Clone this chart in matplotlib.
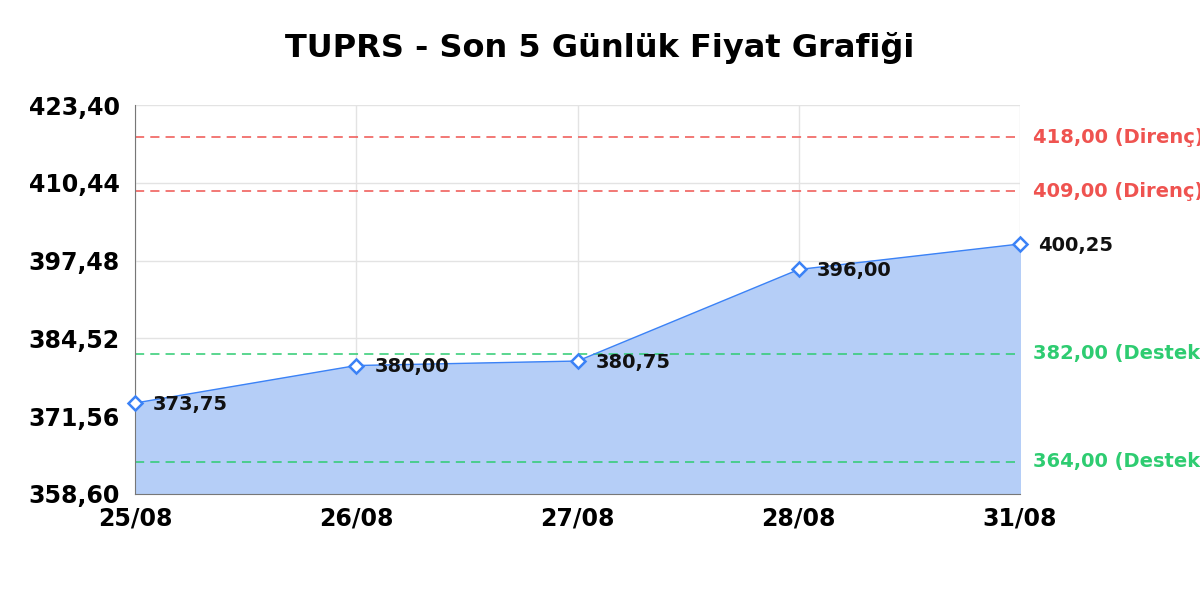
import numpy as np
import matplotlib.pyplot as plt
from matplotlib.transforms import blended_transform_factory, offset_copy

plt.rcParams['font.family'] = ['DejaVu Sans']

# data
dates = ['25/08', '26/08', '27/08', '28/08', '31/08']
prices = [373.75, 380.00, 380.75, 396.00, 400.25]
resistance = [418.00, 409.00]
support = [382.00, 364.00]
y_ticks = [358.60, 371.56, 384.52, 397.48, 410.44, 423.40]

blue = '#3b82f6'
red = '#ef5350'
green = '#2ecc71'

fig = plt.figure(figsize=(12, 6), dpi=100)
ax = fig.add_axes([0.1125, 0.1767, 0.7375, 0.6483])

x = np.arange(len(dates))
ax.fill_between(x, prices, y_ticks[0], color='#b5cef7', zorder=1)
ax.plot(x, prices, color=blue, lw=1, zorder=3)
ax.plot(x, prices, ls='none', marker='D', ms=7, mfc='white', mec=blue, mew=1.8, zorder=4, clip_on=False)

for xi, p in zip(x, prices):
    ax.annotate(f'{p:.2f}'.replace('.', ','), (xi, p), xytext=(13, -1), textcoords='offset points',
                ha='left', va='center', fontsize=14, fontweight='bold', color='#111111', zorder=5,
                annotation_clip=False)

# destek / direnc seviyeleri, etiketler eksenin sagina
tr = blended_transform_factory(ax.transAxes, ax.transData)
tr = offset_copy(tr, fig=fig, x=13, y=0, units='dots')
for lvl in resistance:
    ax.axhline(lvl, color=red, ls=(0, (6, 4)), lw=1.1, zorder=2)
    ax.text(1, lvl, f'{lvl:.2f}'.replace('.', ',') + ' (Direnç)', transform=tr, color=red,
            fontsize=14, fontweight='bold', ha='left', va='center', clip_on=False)
for lvl in support:
    ax.axhline(lvl, color=green, ls=(0, (6, 4)), lw=1.1, zorder=2)
    ax.text(1, lvl, f'{lvl:.2f}'.replace('.', ',') + ' (Destek)', transform=tr, color=green,
            fontsize=14, fontweight='bold', ha='left', va='center', clip_on=False)

ax.set_xlim(0, len(dates) - 1)
ax.set_ylim(y_ticks[0], y_ticks[-1])
ax.set_xticks(x)
ax.set_xticklabels(dates, fontsize=17, fontweight='bold')
ax.set_yticks(y_ticks)
ax.set_yticklabels([f'{v:.2f}'.replace('.', ',') for v in y_ticks], fontsize=17, fontweight='bold')
ax.tick_params(length=0)
ax.tick_params(axis='x', pad=9)
ax.tick_params(axis='y', pad=11)
ax.grid(True, color='#e3e3e3', lw=1, zorder=0)
ax.set_axisbelow(True)
for s in ['top', 'right']:
    ax.spines[s].set_visible(False)
for s in ['left', 'bottom']:
    ax.spines[s].set_color('#777777')

fig.suptitle('TUPRS - Son 5 Günlük Fiyat Grafiği', fontsize=23, fontweight='bold', y=0.92, va='center')

fig.savefig('out.png', dpi=100)
